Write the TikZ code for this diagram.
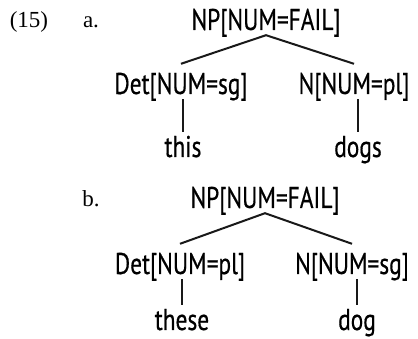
\documentclass[tikz,border=0pt]{standalone}
\usepackage{fontspec}
\newfontfamily\catfont{PT Sans}[FakeStretch=0.78,FakeBold=0.5]
\newfontfamily\numfont{Liberation Serif}
\begin{document}
\begin{tikzpicture}[x=1pt,y=-1pt,
  lbl/.style={inner sep=0pt,anchor=base,font=\numfont\fontsize{23}{26}\selectfont},
  root/.style={inner sep=0pt,anchor=base,font=\catfont\fontsize{30}{32}\selectfont,text height=19pt,text depth=5pt},
  kid/.style={inner sep=0pt,anchor=base,font=\catfont\fontsize{30}{32}\selectfont,text height=30pt,text depth=5pt},
  leaf/.style={inner sep=0pt,anchor=base,font=\catfont\fontsize{30}{32}\selectfont,text height=25pt,text depth=5pt},
  edge/.style={line width=2pt,black!90}]
\useasboundingbox (0,0) rectangle (418,339);
% (15) a.
\node[lbl] (num) at (29,28) {(15)};
\node[lbl] (la) at (91,28) {a.};
\node[root] (npA) at (266,30) {NP[NUM=FAIL]};
\node[kid] (detA) at (181,94) {Det[NUM=sg]};
\node[kid] (nA) at (354,94) {N[NUM=pl]};
\node[leaf] (thisA) at (183,157) {this};
\node[leaf] (dogsA) at (358,157) {dogs};
\draw[edge] (detA.north) -- (npA.south) -- (nA.north);
\draw[edge] (detA.south -| thisA.north) -- (thisA.north);
\draw[edge] (nA.south -| dogsA.north) -- (dogsA.north);
% b.
\node[lbl] (lb) at (91,207) {b.};
\node[root] (npB) at (265,208) {NP[NUM=FAIL]};
\node[kid] (detB) at (180,274) {Det[NUM=pl]};
\node[kid] (nB) at (352,274) {N[NUM=sg]};
\node[leaf] (theseB) at (182,330) {these};
\node[leaf] (dogB) at (357,330) {dog};
\draw[edge] (detB.north) -- (npB.south) -- (nB.north);
\draw[edge] (detB.south -| theseB.north) -- (theseB.north);
\draw[edge] (nB.south -| dogB.north) -- (dogB.north);
\end{tikzpicture}
\end{document}
